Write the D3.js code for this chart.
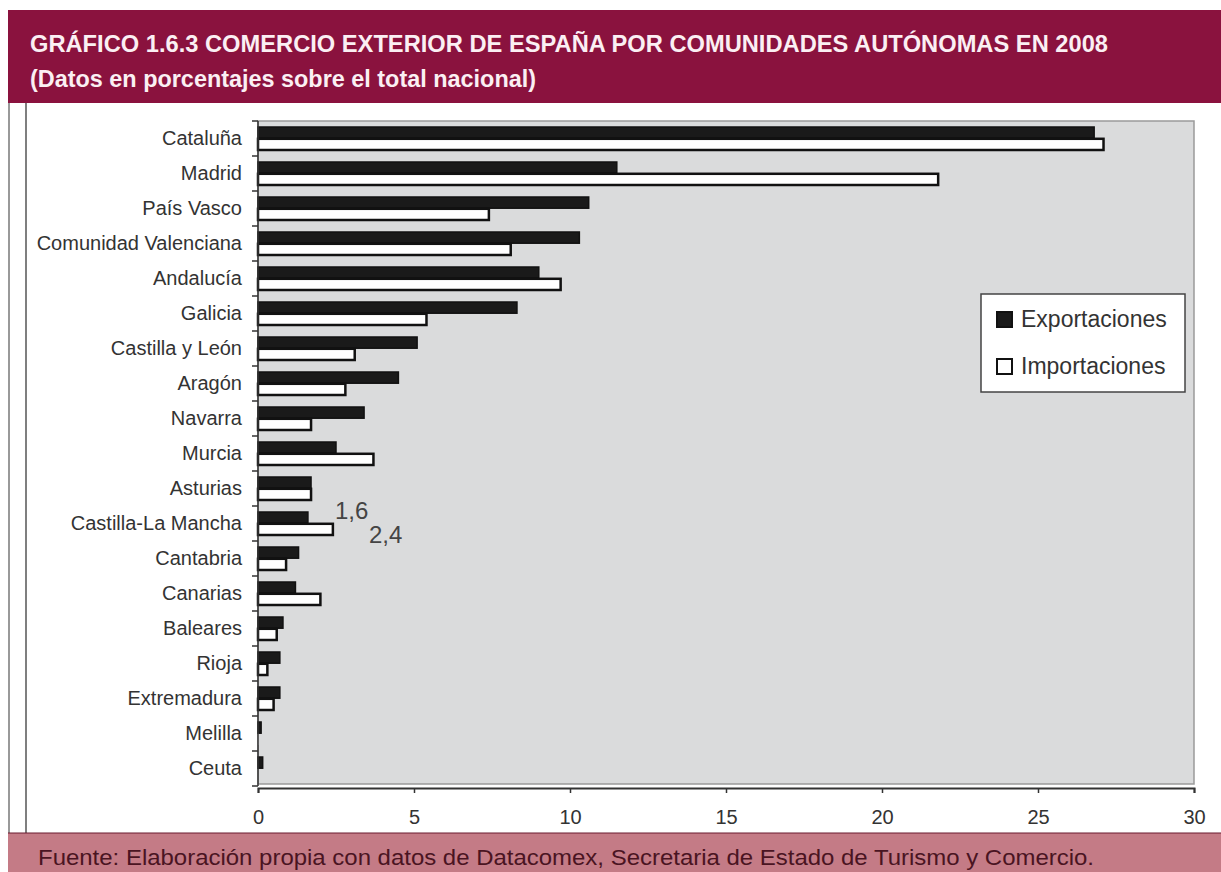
<!DOCTYPE html>
<html>
<head>
<meta charset="utf-8">
<script src="https://cdn.jsdelivr.net/npm/d3@7"></script>
<style>
  body { margin: 0; background: #fff; }
  svg { display: block; font-family: "Liberation Sans", Arial, sans-serif; }
</style>
</head>
<body>
<div id="chart"></div>
<script>
/* DATA */
const regions = ["Cataluña", "Madrid", "País Vasco", "Comunidad Valenciana", "Andalucía", "Galicia",
  "Castilla y León", "Aragón", "Navarra", "Murcia", "Asturias", "Castilla-La Mancha", "Cantabria",
  "Canarias", "Baleares", "Rioja", "Extremadura", "Melilla", "Ceuta"];
const exportaciones = [26.8, 11.5, 10.6, 10.3, 9.0, 8.3, 5.1, 4.5, 3.4, 2.5, 1.7, 1.6, 1.3, 1.2, 0.8, 0.7, 0.7, 0.1, 0.15];
const importaciones = [27.1, 21.8, 7.4, 8.1, 9.7, 5.4, 3.1, 2.8, 1.7, 3.7, 1.7, 2.4, 0.9, 2.0, 0.6, 0.3, 0.5, 0.02, 0.0];
const xTicks = [0, 5, 10, 15, 20, 25, 30];
const seriesNames = ["Exportaciones", "Importaciones"];
const notes = [{ region: "Castilla-La Mancha", text: "1,6", value: 1.6, dy: -1 }, { region: "Castilla-La Mancha", text: "2,4", value: 2.4, dy: 1 }];

const width = 1221, height = 872;
const margin = { top: 121, bottom: 86, left: 258, right: 27 };

const data = regions.map((r, i) => ({ region: r, exp: exportaciones[i], imp: importaciones[i] }));

const svg = d3.select("#chart").append("svg")
  .attr("width", width)
  .attr("height", height);

// frame: banner, side lines, footer
svg.append("rect").attr("x", 8).attr("y", 10).attr("width", width - 8).attr("height", 93).attr("fill", "#8a123e");
svg.append("rect").attr("x", 8).attr("y", 833).attr("width", width - 8).attr("height", 39).attr("fill", "#c47b86");
svg.append("line").attr("x1", 9).attr("x2", 9).attr("y1", 103).attr("y2", 833).attr("stroke", "#777").attr("stroke-width", 1.5);
svg.append("line").attr("x1", 26).attr("x2", 26).attr("y1", 103).attr("y2", 833).attr("stroke", "#555").attr("stroke-width", 1.5);
svg.append("line").attr("x1", 8).attr("x2", width).attr("y1", 833).attr("y2", 833).attr("stroke", "#6b1a2e").attr("stroke-width", 1);

// titles (squeezed to match the narrow face of the original)
svg.append("text").attr("x", 30).attr("y", 52)
  .attr("fill", "#fbeff3").attr("font-weight", "bold").attr("font-size", 24)
  .attr("textLength", 1078).attr("lengthAdjust", "spacingAndGlyphs")
  .text("GRÁFICO 1.6.3 COMERCIO EXTERIOR DE ESPAÑA POR COMUNIDADES AUTÓNOMAS EN 2008");
svg.append("text").attr("x", 30).attr("y", 87)
  .attr("fill", "#fbeff3").attr("font-weight", "bold").attr("font-size", 24)
  .attr("textLength", 506).attr("lengthAdjust", "spacingAndGlyphs")
  .text("(Datos en porcentajes sobre el total nacional)");
svg.append("text").attr("x", 38).attr("y", 865)
  .attr("fill", "#4a1422").attr("font-size", 22)
  .attr("textLength", 1056).attr("lengthAdjust", "spacingAndGlyphs")
  .text("Fuente: Elaboración propia con datos de Datacomex, Secretaria de Estado de Turismo y Comercio.");

// scales
const x = d3.scaleLinear().domain([0, 30]).range([margin.left, width - margin.right]);
const y = d3.scaleBand().domain(regions).range([margin.top, height - margin.bottom]);
const inner = d3.scaleBand().domain(seriesNames).range([6, y.bandwidth() - 6]).paddingInner(0.05);

// plot background
svg.append("rect")
  .attr("x", x(0)).attr("y", margin.top)
  .attr("width", x(30) - x(0)).attr("height", height - margin.bottom - margin.top - 2)
  .attr("fill", "#dadbdc").attr("stroke", "#9a9a9a").attr("stroke-width", 1.5);

// bars
const rows = svg.selectAll(".row")
  .data(data)
  .join("g")
  .attr("class", "row")
  .attr("transform", d => `translate(0, ${y(d.region)})`);

rows.append("rect")
  .attr("x", x(0))
  .attr("y", inner("Exportaciones"))
  .attr("width", d => x(d.exp) - x(0))
  .attr("height", inner.bandwidth())
  .attr("fill", "#1a1a1a").attr("stroke", "#111").attr("stroke-width", 1.5);

rows.append("rect")
  .attr("x", x(0))
  .attr("y", inner("Importaciones"))
  .attr("width", d => x(d.imp) - x(0))
  .attr("height", inner.bandwidth())
  .attr("fill", "#fff").attr("stroke", "#111").attr("stroke-width", d => d.imp > 0.05 ? 2.5 : 0);

// axes
const yAxis = svg.append("g")
  .attr("transform", `translate(${x(0)}, 0)`)
  .call(d3.axisLeft(y).tickSize(0).tickPadding(16));
yAxis.select(".domain").remove();
yAxis.selectAll("text").attr("font-size", 20).attr("fill", "#333").attr("font-family", '"Liberation Sans", Arial, sans-serif');

// category boundary ticks
svg.append("g").selectAll("line")
  .data(regions.concat(["end"]))
  .join("line")
  .attr("x1", x(0) - 6).attr("x2", x(0))
  .attr("y1", (d, i) => margin.top + i * y.step())
  .attr("y2", (d, i) => margin.top + i * y.step())
  .attr("stroke", "#333").attr("stroke-width", 1.5);
svg.append("line")
  .attr("x1", x(0)).attr("x2", x(0))
  .attr("y1", margin.top).attr("y2", height - margin.bottom)
  .attr("stroke", "#333").attr("stroke-width", 1.5);

const xAxis = svg.append("g")
  .attr("transform", `translate(0, ${height - margin.bottom + 2})`)
  .call(d3.axisBottom(x).tickValues(xTicks).tickSize(5).tickPadding(17));
xAxis.select(".domain").attr("stroke", "#333").attr("stroke-width", 2);
xAxis.selectAll(".tick line").attr("stroke", "#333").attr("stroke-width", 1.5);
xAxis.selectAll("text").attr("font-size", 20).attr("fill", "#333").attr("font-family", '"Liberation Sans", Arial, sans-serif');

// value notes
svg.selectAll(".note")
  .data(notes)
  .join("text")
  .attr("class", "note")
  .attr("x", d => x(d.value) + (d.dy < 0 ? 27 : 36))
  .attr("y", d => y(d.region) + y.bandwidth() / 2 + d.dy * 12 + 7)
  .attr("font-size", 24).attr("fill", "#444")
  .text(d => d.text);

// legend
const legend = svg.append("g").attr("transform", "translate(981, 294)");
legend.append("rect").attr("width", 204).attr("height", 98)
  .attr("fill", "#fff").attr("stroke", "#444").attr("stroke-width", 1.5);
const items = legend.selectAll(".item")
  .data(seriesNames)
  .join("g")
  .attr("transform", (d, i) => `translate(16, ${25 + i * 47})`);
items.append("rect")
  .attr("x", 0).attr("y", -7).attr("width", 15).attr("height", 15)
  .attr("fill", d => d === "Exportaciones" ? "#1a1a1a" : "#fff")
  .attr("stroke", "#111").attr("stroke-width", 2);
items.append("text")
  .attr("x", 24).attr("y", 8)
  .attr("font-size", 23).attr("fill", "#333")
  .text(d => d);
</script>
</body>
</html>
